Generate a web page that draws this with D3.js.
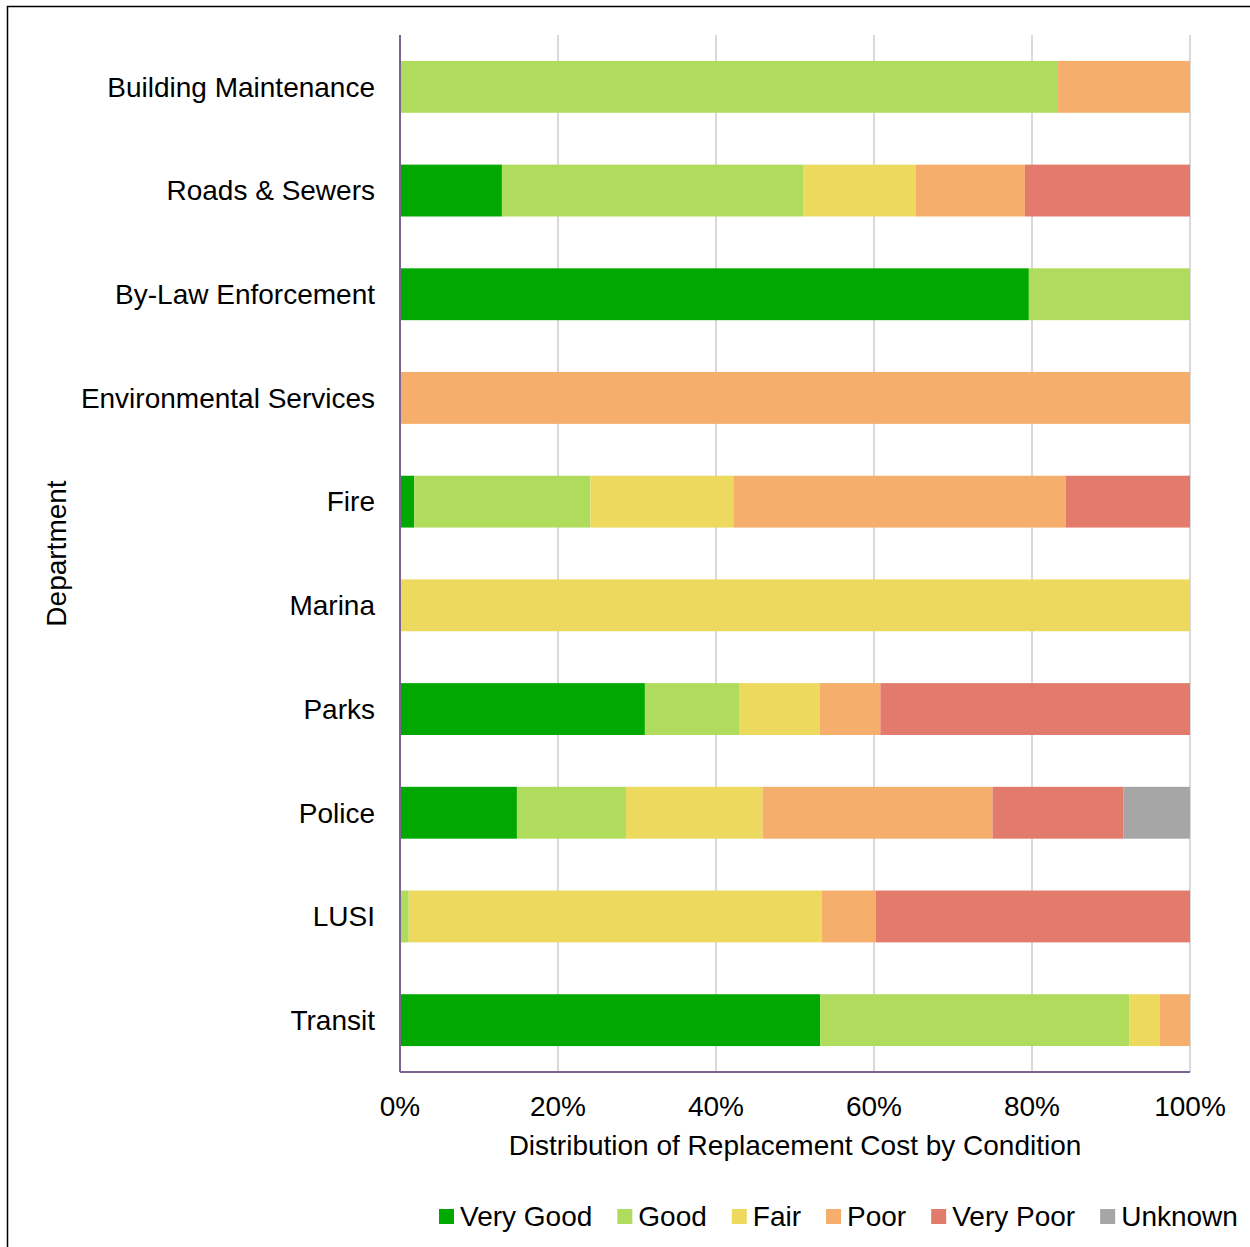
<!DOCTYPE html>
<html>
<head>
<meta charset="utf-8">
<script src="https://cdn.jsdelivr.net/npm/d3@7"></script>
<style>
  body { margin: 0; background: #fff; }
  text { font-family: "Liberation Sans", Arial, sans-serif; fill: #000; }
</style>
</head>
<body>
<div id="chart"></div>
<script>
// Data (percent of replacement cost)
const departments = ["Building Maintenance", "Roads & Sewers", "By-Law Enforcement",
    "Environmental Services", "Fire", "Marina", "Parks", "Police", "LUSI", "Transit"];
const conditions = ["Very Good", "Good", "Fair", "Poor", "Very Poor", "Unknown"];
const colors = ["#00a800", "#b0dc5e", "#edd95e", "#f5ae6b", "#e27b6b", "#a6a6a6"];

const veryGood = [0, 12.9, 79.6, 0, 1.8, 0, 31.0, 14.8, 0, 53.2];
const good     = [83.3, 38.2, 20.4, 0, 22.3, 0, 12.0, 13.8, 1.1, 39.1];
const fair     = [0, 14.2, 0, 0, 18.1, 100, 10.1, 17.3, 52.3, 3.9];
const poor     = [16.7, 13.8, 0, 100, 42.1, 0, 7.7, 29.1, 6.8, 3.8];
const veryPoor = [0, 20.9, 0, 0, 15.7, 0, 39.2, 16.6, 39.8, 0];
const unknown  = [0, 0, 0, 0, 0, 0, 0, 8.4, 0, 0];

const xTicks = [0, 20, 40, 60, 80, 100];

// Build table for the stack layout
const series = [veryGood, good, fair, poor, veryPoor, unknown];
const table = departments.map((d, i) => {
    const row = { dept: d };
    conditions.forEach((c, k) => row[c] = series[k][i]);
    return row;
});

const width = 1250, height = 1247;
const plot = { left: 400, right: 1190, top: 35, bottom: 1072 };
const fontSize = "28px";

const svg = d3.select("#chart").append("svg")
    .attr("width", width)
    .attr("height", height);

svg.append("rect")
    .attr("width", width).attr("height", height)
    .attr("fill", "#fff");

// Outer frame
svg.append("rect")
    .attr("x", 7.5).attr("y", 6.5)
    .attr("width", 1300).attr("height", 1300)
    .attr("fill", "none")
    .attr("stroke", "#000")
    .attr("stroke-width", 1.5);

const x = d3.scaleLinear().domain([0, 100]).range([plot.left, plot.right]);
const y = d3.scaleBand().domain(departments)
    .range([plot.top, plot.bottom])
    .paddingInner(0.5).paddingOuter(0.25);

// Gridlines
svg.append("g")
    .selectAll("line")
    .data(xTicks.filter(t => t > 0))
    .join("line")
    .attr("x1", d => x(d)).attr("x2", d => x(d))
    .attr("y1", plot.top).attr("y2", plot.bottom)
    .attr("stroke", "#d9d9d9")
    .attr("stroke-width", 2);

// Stacked bars
const stack = d3.stack().keys(conditions)(table);
svg.append("g")
    .selectAll("g")
    .data(stack)
    .join("g")
    .attr("fill", (d, i) => colors[i])
    .selectAll("rect")
    .data(d => d.filter(v => v[1] - v[0] > 0))
    .join("rect")
    .attr("x", d => x(d[0]))
    .attr("width", d => x(d[1]) - x(d[0]))
    .attr("y", d => y(d.data.dept))
    .attr("height", y.bandwidth());

// Axis lines
svg.append("line")
    .attr("x1", plot.left).attr("x2", plot.left)
    .attr("y1", plot.top).attr("y2", plot.bottom)
    .attr("stroke", "#7a6591").attr("stroke-width", 2);
svg.append("line")
    .attr("x1", plot.left).attr("x2", plot.right)
    .attr("y1", plot.bottom).attr("y2", plot.bottom)
    .attr("stroke", "#7a6591").attr("stroke-width", 2);

// Category labels
svg.append("g")
    .selectAll("text")
    .data(departments)
    .join("text")
    .attr("x", 375)
    .attr("y", d => y(d) + y.bandwidth() / 2)
    .attr("dy", "0.35em")
    .attr("text-anchor", "end")
    .style("font-size", fontSize)
    .text(d => d);

// X tick labels
svg.append("g")
    .selectAll("text")
    .data(xTicks)
    .join("text")
    .attr("x", d => x(d))
    .attr("y", 1116)
    .attr("text-anchor", "middle")
    .style("font-size", fontSize)
    .text(d => d + "%");

// Axis titles
svg.append("text")
    .attr("x", (plot.left + plot.right) / 2)
    .attr("y", 1155)
    .attr("text-anchor", "middle")
    .style("font-size", fontSize)
    .text("Distribution of Replacement Cost by Condition");

svg.append("text")
    .attr("transform", `translate(66, ${(plot.top + plot.bottom) / 2}) rotate(-90)`)
    .attr("text-anchor", "middle")
    .style("font-size", fontSize)
    .text("Department");

// Legend
const legend = svg.append("g");
let lx = 439;
conditions.forEach((c, i) => {
    legend.append("rect")
        .attr("x", lx).attr("y", 1209)
        .attr("width", 15).attr("height", 15)
        .attr("fill", colors[i]);
    const t = legend.append("text")
        .attr("x", lx + 21).attr("y", 1226)
        .style("font-size", fontSize)
        .text(c);
    lx += 21 + t.node().getComputedTextLength() + 25;
});
</script>
</body>
</html>
